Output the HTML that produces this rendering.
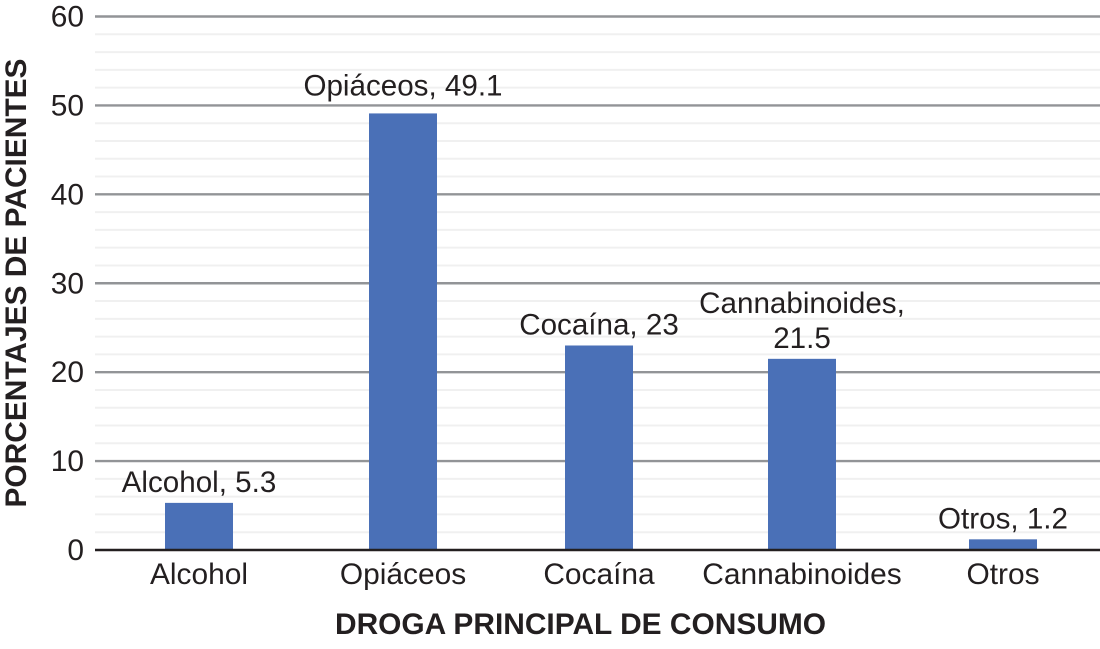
<!DOCTYPE html>
<html lang="es">
<head>
<meta charset="utf-8">
<title>Droga principal de consumo</title>
<style>
html,body{margin:0;padding:0;background:#fff;}
svg{display:block;font-family:"Liberation Sans",sans-serif;}
</style>
</head>
<body>
<svg id="chart" width="1100" height="649" viewBox="0 0 1100 649" xmlns="http://www.w3.org/2000/svg">
  <text transform="translate(26,283) rotate(-90)" text-anchor="middle" font-size="29.9" font-weight="bold" fill="#231f20">PORCENTAJES DE PACIENTES</text>
  <text x="580.5" y="634" text-anchor="middle" font-size="29.9" font-weight="bold" fill="#231f20">DROGA PRINCIPAL DE CONSUMO</text>
</svg>
<script>
const categories = ['Alcohol', 'Opiáceos', 'Cocaína', 'Cannabinoides', 'Otros'];
const values = [5.3, 49.1, 23, 21.5, 1.2];
const labelLines = [['Alcohol, 5.3'], ['Opiáceos, 49.1'], ['Cocaína, 23'], ['Cannabinoides,', '21.5'], ['Otros, 1.2']];
const yTicks = [0, 10, 20, 30, 40, 50, 60];
const yMinorTicks = [2, 4, 6, 8, 12, 14, 16, 18, 22, 24, 26, 28, 32, 34, 36, 38, 42, 44, 46, 48, 52, 54, 56, 58];

const svg = document.getElementById('chart');
const NS = 'http://www.w3.org/2000/svg';
const yMax = 60;
const y0 = 550, y60 = 16.5;
const plotLeft = 95, plotRight = 1100;
const barWidth = 68;
const firstCenter = 199, step = 201;
const textSize = 29.9, labelSize = 29.6;

function yScale(v) { return y0 - (v / yMax) * (y0 - y60); }
function slotOffset(i) { return i === 1 ? 3 : i === 2 ? -2 : 0; }
function labelGap(i) { return i === 1 ? 18 : 11; }
function xScale(i) { return firstCenter + i * step + slotOffset(i); }
function make(tag, attrs, text) {
  const el = document.createElementNS(NS, tag);
  for (const k in attrs) el.setAttribute(k, attrs[k]);
  if (text !== undefined) el.textContent = text;
  svg.appendChild(el);
  return el;
}

yMinorTicks.forEach(function (t) {
  const el = make('line', {x1: plotLeft, x2: plotRight, y1: yScale(t), y2: yScale(t), stroke: '#f0f0f0', 'stroke-width': 2});
  
  
});

yTicks.forEach(function (t) {
  if (t !== 0) {
    const el = make('line', {x1: plotLeft, x2: plotRight, y1: yScale(t), y2: yScale(t), stroke: '#929497', 'stroke-width': 2.4});
    
    
  }
  const lab = make('text', {x: 84, y: yScale(t) + 10, 'text-anchor': 'end', 'font-size': textSize, fill: '#231f20'}, String(t));
  
  
});

categories.forEach(function (c, i) {
  const top = yScale(values[i]);
  const bar = make('rect', {x: xScale(i) - barWidth / 2, y: top, width: barWidth, height: y0 - top, fill: '#4a70b7'});
  
  

  const lines = labelLines[i];
  lines.forEach(function (line, j) {
    const ly = top - labelGap(i) - (lines.length - 1 - j) * 35;
    const t = make('text', {x: xScale(i), y: ly, 'text-anchor': 'middle', 'font-size': labelSize, fill: '#231f20'}, line);
    
    
  });

  const cat = make('text', {x: xScale(i), y: 584, 'text-anchor': 'middle', 'font-size': textSize, fill: '#231f20'}, c);
  
  
});

const axis = make('line', {x1: plotLeft, x2: plotRight, y1: y0, y2: y0, stroke: '#231f20', 'stroke-width': 2.4});


</script>
</body>
</html>
